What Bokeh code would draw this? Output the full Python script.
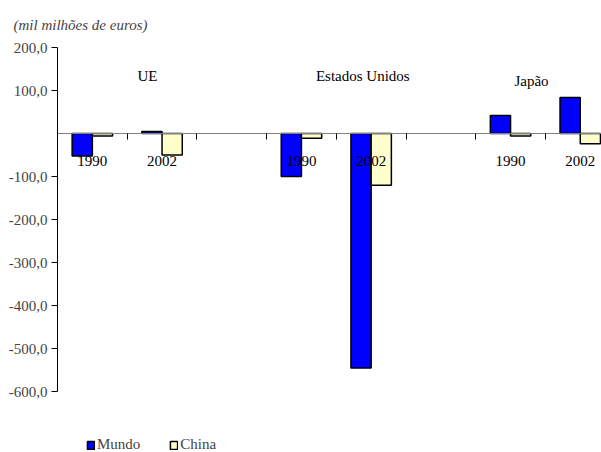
from bokeh.plotting import figure
from bokeh.models import (Range1d, LinearAxis, FixedTicker, ColumnDataSource,
                          Legend, LegendItem, Title)
from bokeh.transform import dodge
from bokeh.core.properties import value
from bokeh.embed import file_html
from bokeh.resources import INLINE

# ---- data ----
slot_labels = ["1990", "2002", "", "1990", "2002", "", "1990", "2002"]
mundo = [-52, 5, None, -100, -545, None, 42, 84]
china = [-6, -50, None, -11, -120, None, -6, -24]
groups = ["UE", "Estados Unidos", "Japão"]
y_ticks = [200, 100, -100, -200, -300, -400, -500, -600]
unit_title = "(mil milhões de euros)"

FONT = "Liberation Serif"
FS = "15px"

PX_PER_SLOT = 69.7
PX_PER_UNIT = 345 / 800.0

# positions derived from slot index
idx = [i for i, v in enumerate(mundo) if v is not None]
xc = [i + 0.5 for i in idx]
src = ColumnDataSource(dict(
    x=xc,
    mundo=[mundo[i] for i in idx],
    china=[china[i] for i in idx],
    lab=[slot_labels[i] for i in idx],
))

ymin = y_ticks[-1] - 61 / PX_PER_UNIT
p = figure(width=601, height=452, output_backend="svg", toolbar_location=None,
           x_range=Range1d(0, 544 / PX_PER_SLOT), y_range=Range1d(ymin, y_ticks[0]),
           x_axis_type=None, y_axis_type=None,
           min_border_left=57, min_border_right=0, min_border_top=46,
           min_border_bottom=0)
p.outline_line_color = None
p.xgrid.visible = False
p.ygrid.visible = False

# y axis
yax = LinearAxis(ticker=FixedTicker(ticks=y_ticks), bounds=(y_ticks[-1], y_ticks[0]))
yax.major_label_overrides = {t: f"{t:.1f}".replace(".", ",") for t in y_ticks}
yax.major_label_text_font = FONT
yax.major_label_text_font_size = FS
yax.major_tick_out = 6
yax.major_tick_in = 0
yax.minor_tick_out = 0
yax.minor_tick_in = 0
yax.major_label_standoff = 4
yax.axis_line_color = "black"
yax.major_tick_line_color = "black"
p.add_layout(yax, "left")

# x axis at zero
xt = list(range(1, len(slot_labels)))
xax = LinearAxis(ticker=FixedTicker(ticks=xt), fixed_location=0)
xax.major_label_overrides = {t: "" for t in xt}
xax.major_tick_out = 6
xax.major_tick_in = 0
xax.minor_tick_out = 0
xax.minor_tick_in = 0
xax.axis_line_color = "#808080"
xax.major_tick_line_color = "black"
p.add_layout(xax, "below")

W = 0.29
r1 = p.vbar(x=dodge("x", -0.145), top="mundo", bottom=0, width=W, source=src,
            fill_color="#0000FF", line_color="black", line_width=1.5)
r2 = p.vbar(x=dodge("x", 0.145), top="china", bottom=0, width=W, source=src,
            fill_color="#FFFFCC", line_color="black", line_width=1.5)

# year labels
p.text(x="x", y=0, text="lab", source=src, y_offset=27, text_align="center",
       text_baseline="middle", text_font=value(FONT), text_font_size=FS,
       text_color="black")

# group labels
gsrc = ColumnDataSource(dict(x=[1.29, 4.38, 6.8], y=[133, 133, 121], t=groups))
p.text(x="x", y="y", text="t", source=gsrc, text_align="center",
       text_baseline="middle", text_font=value(FONT), text_font_size=FS,
       text_color="black")

# title
p.add_layout(Title(text=unit_title, text_font=FONT, text_font_size=FS,
                   text_font_style="italic", align="left", offset=-44,
                   text_line_height=1.0, standoff=29), "above")

legend = Legend(items=[LegendItem(label="Mundo", renderers=[r1]),
                       LegendItem(label="China", renderers=[r2])],
                location=(29, -1), orientation="horizontal",
                glyph_width=9, glyph_height=10, label_standoff=2, spacing=29,
                label_text_font=FONT, label_text_font_size=FS,
                border_line_color=None, background_fill_alpha=0,
                padding=0, margin=0)
p.add_layout(legend)

open("out.html", "w").write(file_html(p, INLINE))
